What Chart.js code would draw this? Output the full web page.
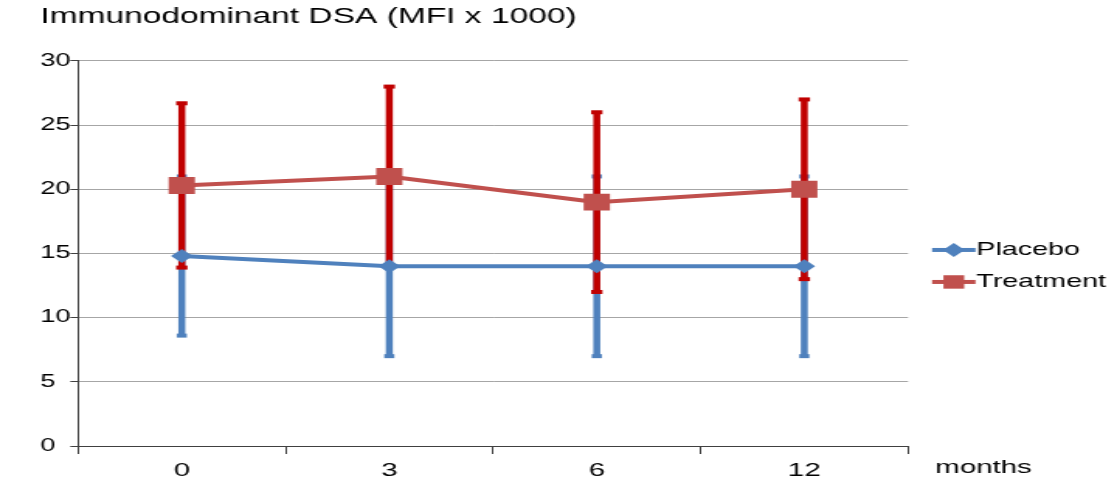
<!DOCTYPE html>
<html lang="en">
<head>
  <meta charset="UTF-8">
  <title>Immunodominant DSA</title>
  <style>
    body {
      margin: 0;
      background: #fff;
      overflow: hidden;
    }
    /* drawn narrow, then widened to the page */
    #chart {
      display: block;
      transform: scaleX(1.5514);
      transform-origin: 0 0;
    }
  </style>
  <script src="https://cdn.jsdelivr.net/npm/chart.js"></script>
</head>
<body>
  <canvas id="chart" width="720" height="483"></canvas>

  <script>
    const months = ['0', '3', '6', '12'];
    const placebo = [14.8, 14, 14, 14];
    const placeboErr = [6.2, 7, 7, 7];
    const treatment = [20.3, 21, 19, 20];
    const treatmentErr = [6.4, 7, 7, 7];

    const BLUE = '#4F81BD';
    const RED = '#C0504D';
    const RED_BAR = '#C00000';
    const FONT = "'Liberation Sans', Arial, sans-serif";

    // vertical error bars with flat caps, under the lines
    const errorBars = {
      id: 'errorBars',
      beforeDatasetsDraw(chart) {
        const { ctx, scales: { x, y } } = chart;
        ctx.save();
        chart.data.datasets.forEach(ds => {
          ctx.fillStyle = ds.errorColor;
          ds.data.forEach((v, i) => {
            const px = x.getPixelForValue(i);
            const top = y.getPixelForValue(v + ds.errors[i]);
            const bot = y.getPixelForValue(v - ds.errors[i]);
            ctx.fillRect(px - 2.25, top, 4.5, bot - top);
            ctx.fillRect(px - ds.capWidth / 2, top - 2, ds.capWidth, 4);
            ctx.fillRect(px - ds.capWidth / 2, bot - 2, ds.capWidth, 4);
          });
        });
        ctx.restore();
      }
    };

    // line + marker legend on the right, and the "months" axis name
    const sideLabels = {
      id: 'sideLabels',
      afterDraw(chart) {
        const { ctx, chartArea } = chart;
        const x0 = chartArea.right;
        const mid = (chartArea.top + chartArea.bottom) / 2;
        ctx.save();
        chart.data.datasets.forEach((ds, i) => {
          const ly = mid - 3.5 + i * 32;
          ctx.strokeStyle = ds.borderColor;
          ctx.lineWidth = 4;
          ctx.beginPath();
          ctx.moveTo(x0 + 15.5, ly);
          ctx.lineTo(x0 + 43.5, ly);
          ctx.stroke();
          ctx.fillStyle = ds.pointBackgroundColor;
          Chart.helpers.drawPoint(ctx, {
            pointStyle: ds.pointStyle,
            radius: ds.legendRadius,
            rotation: 0,
            borderWidth: 0
          }, x0 + 29.5, ly);
          ctx.fillStyle = '#000';
          ctx.font = '18.5px ' + FONT;
          ctx.textAlign = 'left';
          ctx.textBaseline = 'middle';
          ctx.fillText(ds.label, x0 + 44, ly);
        });
        ctx.font = '19px ' + FONT;
        ctx.textBaseline = 'alphabetic';
        ctx.fillText('months', x0 + 17.5, 473);
        ctx.restore();
      }
    };

    new Chart(document.getElementById('chart'), {
      type: 'line',
      data: {
        labels: months,
        datasets: [
          {
            label: 'Placebo',
            data: placebo,
            errors: placeboErr,
            errorColor: BLUE,
            capWidth: 6.5,
            borderColor: BLUE,
            borderWidth: 4,
            pointStyle: 'rectRot',
            pointRadius: 7,
            legendRadius: 7,
            pointBackgroundColor: BLUE,
            pointBorderWidth: 0
          },
          {
            label: 'Treatment',
            data: treatment,
            errors: treatmentErr,
            errorColor: RED_BAR,
            capWidth: 7.3,
            borderColor: RED,
            borderWidth: 4,
            pointStyle: 'rect',
            pointRadius: 12,
            legendRadius: 9.5,
            pointBackgroundColor: RED,
            pointBorderWidth: 0
          }
        ]
      },
      options: {
        responsive: false,
        animation: false,
        devicePixelRatio: 1,
        events: [],
        layout: {
          padding: { left: 26, right: 134.7, top: 0, bottom: 0 }
        },
        plugins: {
          legend: { display: false },
          tooltip: { enabled: false },
          title: {
            display: true,
            text: 'Immunodominant DSA (MFI x 1000)',
            align: 'start',
            color: '#000',
            font: { family: FONT, size: 21.6, weight: 'normal' },
            padding: { top: 4.5, bottom: 30.5 }
          }
        },
        scales: {
          x: {
            offset: true,
            afterFit(scale) { scale.height = 37; },
            grid: {
              offset: true,
              drawOnChartArea: false,
              drawTicks: true,
              tickLength: 8,
              color: '#404040'
            },
            border: { color: '#404040', width: 1 },
            ticks: {
              color: '#000',
              padding: 5,
              font: { family: FONT, size: 19 }
            }
          },
          y: {
            min: 0,
            max: 30,
            afterFit(scale) { scale.width = 24.3; },
            grid: {
              color: '#a6a6a6',
              tickColor: '#404040',
              tickLength: 5,
              drawTicks: true
            },
            border: { color: '#404040', width: 1 },
            ticks: {
              stepSize: 5,
              crossAlign: 'far',
              color: '#000',
              font: { family: FONT, size: 17.5 }
            }
          }
        }
      },
      plugins: [errorBars, sideLabels]
    });
  </script>
</body>
</html>
